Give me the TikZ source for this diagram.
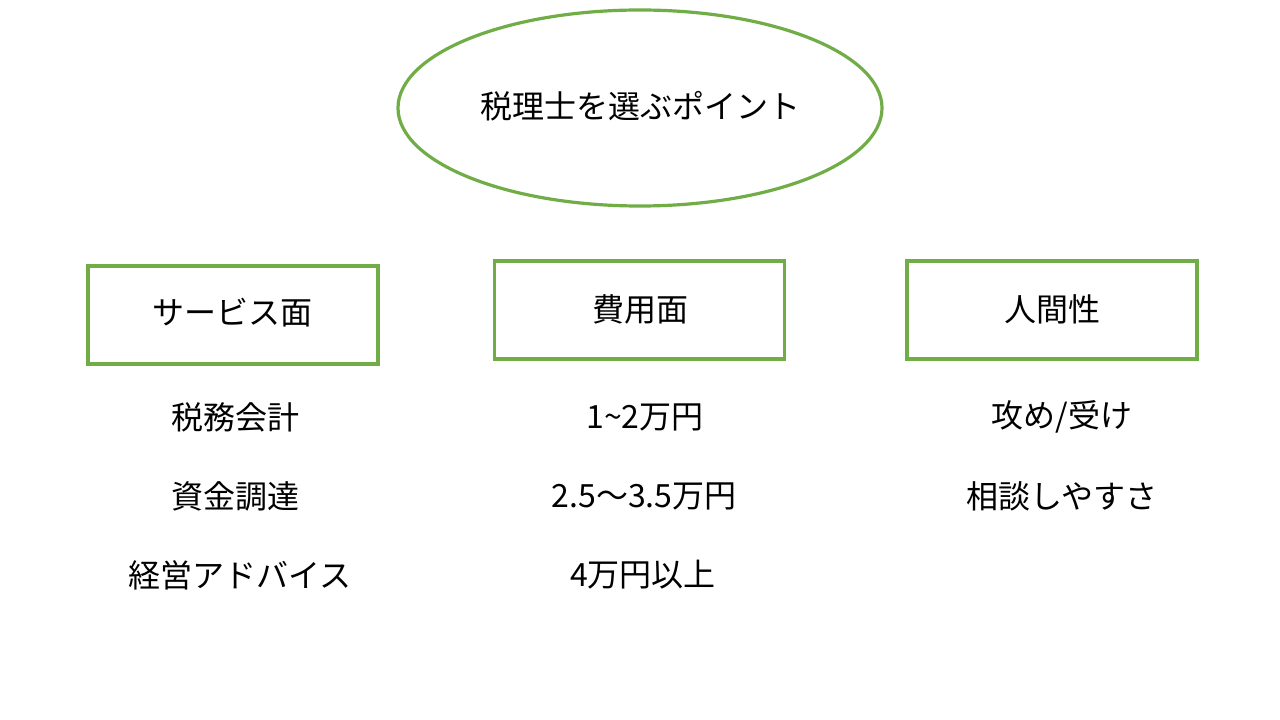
\documentclass[tikz,border=0pt]{standalone}
\usepackage{fontspec}
\setmainfont{Noto Sans CJK JP}
\usetikzlibrary{shapes.geometric}
\definecolor{grn}{HTML}{70AD47}
\tikzset{
  lbl/.style={font=\fontsize{24pt}{28pt}\selectfont, text=black, inner sep=0pt},
  catbox/.style={draw=grn, line width=2.4pt, minimum width=290*0.75pt, minimum height=98*0.75pt, inner sep=0pt},
  topell/.style={ellipse, draw=grn, line width=2.4pt, minimum width=484*0.75pt, minimum height=196*0.75pt, inner sep=0pt}
}
\begin{document}
\begin{tikzpicture}[x=0.75pt,y=-0.75pt]
\fill[white] (0,0) rectangle (1280,720);
\useasboundingbox (0,0) rectangle (1280,720);
\node[topell] (top) at (640,108) {};
\node[lbl] (title) at (640,106) {税理士を選ぶポイント};

\node[catbox] (b1) at (233,315) {};
\node[lbl] (t1) at (232,313) {サービス面};
\node[catbox] (b2) at (639.5,310) {};
\node[lbl] (t2) at (640,309) {費用面};
\node[catbox] (b3) at (1052,310) {};
\node[lbl] (t3) at (1052,309) {人間性};

\node[lbl] (s1) at (235,417) {税務会計};
\node[lbl] (s2) at (235,496) {資金調達};
\node[lbl] (s3) at (240,575) {経営アドバイス};

\node[lbl] (c1) at (645,417) {1\textasciitilde 2万円};
\node[lbl] (c2) at (644,496) {2.5～3.5万円};
\node[lbl] (c3) at (643,575) {4万円以上};

\node[lbl] (h1) at (1062,417) {攻め/受け};
\node[lbl] (h2) at (1062,496) {相談しやすさ};
\end{tikzpicture}
\end{document}
